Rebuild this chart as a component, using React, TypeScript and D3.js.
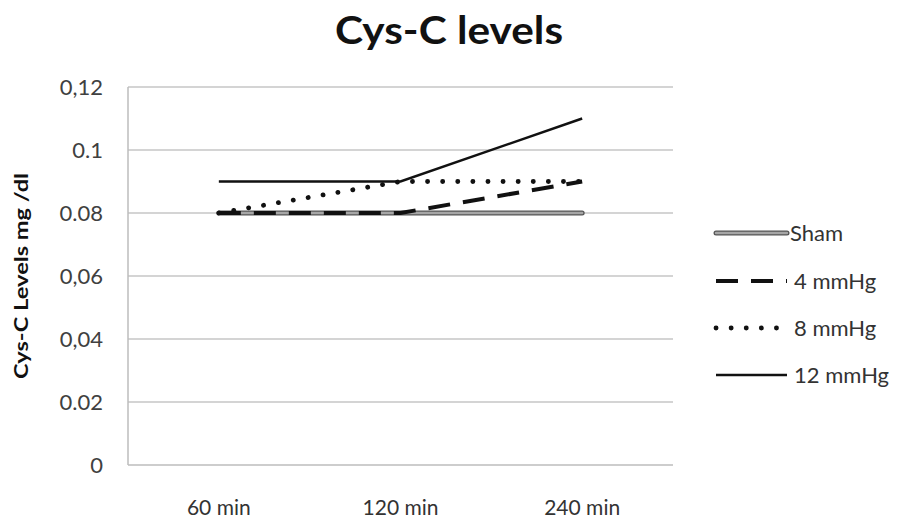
import React from "react";
import * as d3 from "d3";

const categories = ["60 min", "120 min", "240 min"];
const seriesNames = ["Sham", "4 mmHg", "8 mmHg", "12 mmHg"];
const shamValues = [0.08, 0.08, 0.08];
const mmHg4Values = [0.08, 0.08, 0.09];
const mmHg8Values = [0.08, 0.09, 0.09];
const mmHg12Values = [0.09, 0.09, 0.11];
const yTickValues = [0, 0.02, 0.04, 0.06, 0.08, 0.1, 0.12];
const yTickLabels = ["0", "0.02", "0,04", "0,06", "0.08", "0.1", "0,12"];

const W = 901;
const H = 523;
const left = 128;
const right = 673;
const top = 87;
const bottom = 465;
const FONT = "Lato, 'Open Sans', sans-serif";

export default function App() {
  const x = d3.scaleBand<string>().domain(categories).range([left, right]);
  const y = d3.scaleLinear().domain([0, 0.12]).range([bottom, top]);
  const cx = (c: string) => (x(c) as number) + x.bandwidth() / 2;
  const line = d3
    .line<number>()
    .x((_, i) => cx(categories[i]))
    .y((v) => y(v));

  const series = [
    { name: seriesNames[0], values: shamValues },
    { name: seriesNames[1], values: mmHg4Values },
    { name: seriesNames[2], values: mmHg8Values },
    { name: seriesNames[3], values: mmHg12Values },
  ];

  const drawSeries = (i: number, d: string) => {
    if (i === 0)
      return (
        <g key={i}>
          <path d={d} fill="none" stroke="#555" strokeWidth={5} strokeLinecap="round" />
          <path d={d} fill="none" stroke="#a6a6a6" strokeWidth={2.4} strokeLinecap="round" />
        </g>
      );
    if (i === 1)
      return <path key={i} d={d} fill="none" stroke="#111" strokeWidth={4} strokeDasharray="22 13" />;
    if (i === 2)
      return (
        <path key={i} d={d} fill="none" stroke="#111" strokeWidth={4.8} strokeLinecap="round" strokeDasharray="0.1 15" />
      );
    return <path key={i} d={d} fill="none" stroke="#111" strokeWidth={2.5} />;
  };

  const legendY = [233, 281, 328, 375];
  const lx0 = 716;
  const lx1 = 787;

  return (
    <svg width={W} height={H} style={{ display: "block", position: "absolute", left: 0, top: 0, background: "#fff" }}>
      <rect width={W} height={H} fill="#fff" />
      <text x={449} y={44} textAnchor="middle" fontFamily={FONT} fontWeight="bold" fontSize={39} fill="#111" textLength={228} lengthAdjust="spacingAndGlyphs">
        Cys-C levels
      </text>
      {yTickValues.map((v, i) => (
        <g key={v}>
          {v > 0 && <line x1={left} x2={right} y1={y(v)} y2={y(v)} stroke="#c6c6c6" strokeWidth={1.5} />}
          <text x={103} y={y(v) + 7.5} textAnchor="end" fontFamily={FONT} fontSize={22} fill="#404040">
            {yTickLabels[i]}
          </text>
        </g>
      ))}
      <line x1={left} x2={left} y1={top} y2={bottom} stroke="#bdbdbd" strokeWidth={1.5} />
      <line x1={left} x2={right} y1={bottom} y2={bottom} stroke="#bdbdbd" strokeWidth={1.5} />
      {categories.map((c) => (
        <text key={c} x={cx(c)} y={515} textAnchor="middle" fontFamily={FONT} fontSize={21} fill="#333">
          {c}
        </text>
      ))}
      <text
        transform={`translate(28,${276}) rotate(-90)`}
        textAnchor="middle"
        fontFamily={FONT}
        fontWeight="bold"
        fontSize={19}
        fill="#111"
        textLength={206}
        lengthAdjust="spacingAndGlyphs"
      >
        Cys-C Levels mg /dl
      </text>
      {series.map((s, i) => drawSeries(i, line(s.values) as string))}
      {series.map((s, i) => (
        <g key={s.name}>
          {drawSeries(i, `M${lx0},${legendY[i]}L${lx1},${legendY[i]}`)}
          <text x={i === 0 ? 790 : 794} y={legendY[i] + 7.5} fontFamily={FONT} fontSize={22} fill="#333">
            {s.name}
          </text>
        </g>
      ))}
    </svg>
  );
}
